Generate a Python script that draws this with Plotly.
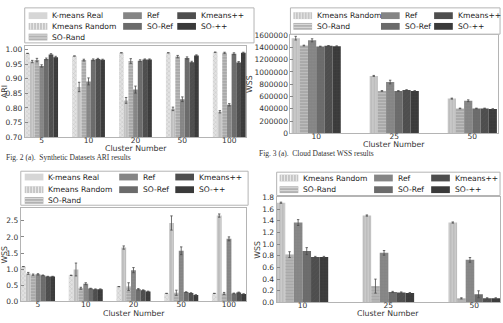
import plotly.graph_objects as go

W, H = 503, 323

# ---------------- data ----------------
# Fig. 2 (a) Synthetic datasets ARI
ari_categories = ["5", "10", "20", "50", "100"]
ari_kmeans_real = [0.987, 0.978, 0.989, 0.989, 0.991]
ari_kmeans_random = [0.959, 0.872, 0.826, 0.797, 0.787]
ari_so_rand = [0.964, 0.964, 0.961, 0.976, 0.989]
ari_ref = [0.944, 0.891, 0.863, 0.830, 0.811]
ari_so_ref = [0.968, 0.965, 0.962, 0.971, 0.986]
ari_kmeans_pp = [0.983, 0.968, 0.966, 0.957, 0.956]
ari_so_pp = [0.974, 0.965, 0.966, 0.980, 0.989]
ari_err_kmeans_real = [0, 0, 0, 0, 0]
ari_err_kmeans_random = [0.004, 0.016, 0.010, 0.006, 0.004]
ari_err_so_rand = [0.006, 0.003, 0.008, 0.004, 0.002]
ari_err_ref = [0.004, 0.012, 0.012, 0.008, 0.004]
ari_err_so_ref = [0.003, 0.003, 0.003, 0.004, 0.003]
ari_err_kmeans_pp = [0.003, 0.002, 0.002, 0.003, 0.003]
ari_err_so_pp = [0.003, 0.002, 0.002, 0.002, 0.002]

# Fig. 3 (a) Cloud dataset WSS
cloud_categories = ["10", "25", "50"]
cloud_kmeans_random = [1550000, 935000, 565000]
cloud_so_rand = [1430000, 690000, 405000]
cloud_ref = [1515000, 835000, 530000]
cloud_so_ref = [1415000, 690000, 405000]
cloud_kmeans_pp = [1425000, 705000, 405000]
cloud_so_pp = [1420000, 690000, 395000]
cloud_err_kmeans_random = [30000, 8000, 8000]
cloud_err_so_rand = [6000, 5000, 5000]
cloud_err_ref = [25000, 30000, 15000]
cloud_err_so_ref = [5000, 5000, 5000]
cloud_err_kmeans_pp = [5000, 5000, 5000]
cloud_err_so_pp = [5000, 5000, 5000]

# Fig. 2 (b) Synthetic datasets WSS
syn_categories = ["5", "10", "20", "50", "100"]
syn_kmeans_real = [1.08, 0.81, 0.46, 0.25, 0.25]
syn_kmeans_random = [0.87, 0.99, 1.67, 2.43, 2.66]
syn_so_rand = [0.83, 0.41, 0.46, 0.27, 0.25]
syn_ref = [0.84, 0.55, 0.97, 1.57, 1.94]
syn_so_ref = [0.81, 0.40, 0.38, 0.29, 0.25]
syn_kmeans_pp = [0.77, 0.38, 0.35, 0.26, 0.28]
syn_so_pp = [0.77, 0.38, 0.31, 0.20, 0.23]
syn_err_kmeans_real = [0, 0, 0, 0, 0]
syn_err_kmeans_random = [0.03, 0.20, 0.05, 0.22, 0.05]
syn_err_so_rand = [0.02, 0.03, 0.12, 0.08, 0.03]
syn_err_ref = [0.02, 0.03, 0.08, 0.12, 0.06]
syn_err_so_ref = [0.01, 0.01, 0.02, 0.01, 0.01]
syn_err_kmeans_pp = [0.01, 0.01, 0.01, 0.01, 0.01]
syn_err_so_pp = [0.01, 0.01, 0.01, 0.01, 0.01]

# Fig. 3 (b) Cloud dataset WSS (normalised)
cld_categories = ["10", "25", "50"]
cld_kmeans_random = [1.71, 1.49, 1.37]
cld_so_rand = [0.82, 0.28, 0.07]
cld_ref = [1.37, 0.85, 0.73]
cld_so_ref = [0.88, 0.18, 0.14]
cld_kmeans_pp = [0.78, 0.17, 0.07]
cld_so_pp = [0.78, 0.16, 0.07]
cld_err_kmeans_random = [0.01, 0.01, 0.01]
cld_err_so_rand = [0.05, 0.12, 0.01]
cld_err_ref = [0.05, 0.04, 0.04]
cld_err_so_ref = [0.06, 0.01, 0.06]
cld_err_kmeans_pp = [0.01, 0.01, 0.01]
cld_err_so_pp = [0.01, 0.01, 0.01]

# ---------------- styles ----------------
STYLE = {
    "K-means Real":  dict(bg="#e2e2e2", fg="#9a9a9a", shape="x", size=3, sol=0.25, swatch="#d6d6d6"),
    "Kmeans Random": dict(bg="#bdbdbd", fg="#e6e6e6", shape="|", size=3, sol=0.3, swatch="#c6c6c6"),
    "SO-Rand":       dict(bg="#a9a9a9", fg="#d8d8d8", shape="-", size=3, sol=0.3, swatch="#b2b2b2"),
    "Ref":           dict(bg="#858585", fg="#939393", shape=".", size=3, sol=0.2, swatch="#858585"),
    "SO-Ref":        dict(bg="#6b6b6b", fg="#7a7a7a", shape="+", size=3, sol=0.2, swatch="#6b6b6b"),
    "Kmeans++":      dict(bg="#4e4e4e", fg="#5c5c5c", shape="/", size=3, sol=0.2, swatch="#4e4e4e"),
    "SO-++":         dict(bg="#3a3a3a", fg="#4c4c4c", shape="+", size=3, sol=0.25, swatch="#3a3a3a"),
}


def px(x):
    return x / W


def py(y):
    return 1 - y / H


fig = go.Figure()


def add_panel(xa, ya, cats, names, values, errors, bw):
    n = len(names)
    for i, (name, vals, err) in enumerate(zip(names, values, errors)):
        st = STYLE[name]
        fig.add_trace(go.Bar(
            x=cats, y=vals, name=name, xaxis=xa, yaxis=ya,
            width=bw, offset=-n * bw / 2 + i * bw,
            marker=dict(color=st["bg"], line=dict(width=0),
                        pattern=dict(shape=st["shape"], fgcolor=st["fg"], bgcolor=st["bg"],
                                     size=st["size"], solidity=st["sol"])),
            error_y=dict(type="data", array=err, visible=True, color="#4a4a4a",
                         thickness=0.8, width=1.2),
            showlegend=False))


names7 = ["K-means Real", "Kmeans Random", "SO-Rand", "Ref", "SO-Ref", "Kmeans++", "SO-++"]
names6 = ["Kmeans Random", "SO-Rand", "Ref", "SO-Ref", "Kmeans++", "SO-++"]

add_panel("x", "y", ari_categories, names7,
          [ari_kmeans_real, ari_kmeans_random, ari_so_rand, ari_ref, ari_so_ref, ari_kmeans_pp, ari_so_pp],
          [ari_err_kmeans_real, ari_err_kmeans_random, ari_err_so_rand, ari_err_ref, ari_err_so_ref,
           ari_err_kmeans_pp, ari_err_so_pp], 0.1)
add_panel("x2", "y2", cloud_categories, names6,
          [cloud_kmeans_random, cloud_so_rand, cloud_ref, cloud_so_ref, cloud_kmeans_pp, cloud_so_pp],
          [cloud_err_kmeans_random, cloud_err_so_rand, cloud_err_ref, cloud_err_so_ref,
           cloud_err_kmeans_pp, cloud_err_so_pp], 0.105)
add_panel("x3", "y3", syn_categories, names7,
          [syn_kmeans_real, syn_kmeans_random, syn_so_rand, syn_ref, syn_so_ref, syn_kmeans_pp, syn_so_pp],
          [syn_err_kmeans_real, syn_err_kmeans_random, syn_err_so_rand, syn_err_ref, syn_err_so_ref,
           syn_err_kmeans_pp, syn_err_so_pp], 0.102)
add_panel("x4", "y4", cld_categories, names6,
          [cld_kmeans_random, cld_so_rand, cld_ref, cld_so_ref, cld_kmeans_pp, cld_so_pp],
          [cld_err_kmeans_random, cld_err_so_rand, cld_err_ref, cld_err_so_ref,
           cld_err_kmeans_pp, cld_err_so_pp], 0.1)

TICKFONT = dict(size=7.5, color="#333333", family="DejaVu Sans")
TITLEFONT = dict(size=7.8, color="#333333", family="DejaVu Sans")


def xaxis(x0, x1, rng, anchor):
    return dict(domain=[px(x0), px(x1)], range=rng, type="category", anchor=anchor,
                showline=True, mirror=True, linecolor="#b4b4b4", linewidth=1,
                ticks="inside", ticklen=3, tickcolor="#888888", showgrid=False, zeroline=False,
                tickfont=TICKFONT, ticklabelstandoff=-4)


def yaxis(y_top, y_bot, rng, dtick, fmt, anchor, title=""):
    return dict(domain=[py(y_bot), py(y_top)], range=rng, anchor=anchor, dtick=dtick, tickformat=fmt,
                showline=True, mirror=True, linecolor="#b4b4b4", linewidth=1,
                ticks="inside", ticklen=3, tickcolor="#888888", showgrid=False, zeroline=False,
                tickfont=TICKFONT, title=dict(text=title, font=TITLEFONT, standoff=0))


layout = dict(
    width=W, height=H, margin=dict(l=0, r=0, t=0, b=0),
    paper_bgcolor="white", plot_bgcolor="white", barmode="overlay", showlegend=False,
    font=dict(family="DejaVu Sans", color="#333333"),
    xaxis=xaxis(17, 242, [-0.36, 4.36], "y"),
    yaxis=yaxis(43, 137, [0.70, 1.013], 0.05, ".2f", "x", "ARI"),
    xaxis2=xaxis(287, 498, [-0.33, 2.33], "y2"),
    yaxis2=yaxis(32, 133, [0, 1600000], 200000, "d", "x2", "WSS"),
    xaxis3=xaxis(13, 242, [-0.36, 4.36], "y3"),
    yaxis3=yaxis(210, 306, [0, 2.89], 0.5, ".1f", "x3", "WSS"),
    xaxis4=xaxis(273, 500, [-0.3, 2.3], "y4"),
    yaxis4=yaxis(199, 307, [0, 1.8], 0.2, ".1f", "x4", "WSS"),
)
fig.update_layout(**layout)

shapes = []
annotations = []


def add_legend(box, columns, col_x, rows_y):
    x0, y0, x1, y1 = box
    shapes.append(dict(type="rect", xref="paper", yref="paper", x0=px(x0), x1=px(x1), y0=py(y1), y1=py(y0),
                       line=dict(color="#b4b4b4", width=1), fillcolor="white", layer="above"))
    for col, sx in zip(columns, col_x):
        for name, ry in zip(col, rows_y):
            st = STYLE[name]
            shapes.append(dict(type="rect", xref="paper", yref="paper", x0=px(sx), x1=px(sx + 19),
                               y0=py(ry + 3.5), y1=py(ry - 3.5), line=dict(width=0),
                               fillcolor=st["swatch"], layer="above"))
            if st["shape"] == "|":
                for k in range(2, 19, 3):
                    shapes.append(dict(type="line", xref="paper", yref="paper", x0=px(sx + k), x1=px(sx + k),
                                       y0=py(ry + 3.5), y1=py(ry - 3.5),
                                       line=dict(color="#eaeaea", width=1), layer="above"))
            elif st["shape"] == "-":
                for k in (-2, 1):
                    shapes.append(dict(type="line", xref="paper", yref="paper", x0=px(sx), x1=px(sx + 19),
                                       y0=py(ry + k), y1=py(ry + k),
                                       line=dict(color="#dcdcdc", width=1), layer="above"))
            annotations.append(dict(text=name, xref="paper", yref="paper", x=px(sx + 22), y=py(ry),
                                    xanchor="left", yanchor="middle", showarrow=False,
                                    font=dict(size=7.6, color="#222222", family="DejaVu Sans")))


add_legend((17, 4, 250, 40),
           [["K-means Real", "Kmeans Random", "SO-Rand"], ["Ref", "SO-Ref"], ["Kmeans++", "SO-++"]],
           [21, 117, 172], [12, 23, 34])
add_legend((287, 4, 500, 31),
           [["Kmeans Random", "SO-Rand"], ["Ref", "SO-Ref"], ["Kmeans++", "SO-++"]],
           [290, 379, 433], [12, 23])
add_legend((13, 172, 244, 207),
           [["K-means Real", "Kmeans Random", "SO-Rand"], ["Ref", "SO-Ref"], ["Kmeans++", "SO-++"]],
           [17, 113, 170], [178, 191, 202])
add_legend((273, 173, 500, 197),
           [["Kmeans Random", "SO-Rand"], ["Ref", "SO-Ref"], ["Kmeans++", "SO-++"]],
           [276, 372, 430], [179, 191])

# x-axis titles placed under each panel
for cx, cy in ((130, 148.5), (392, 144.5), (128, 318), (386, 318)):
    annotations.append(dict(text="Cluster Number", xref="paper", yref="paper", x=px(cx), y=py(cy),
                            xanchor="center", yanchor="middle", showarrow=False, font=TITLEFONT))

CAPFONT = dict(size=7.5, color="#333333", family="Liberation Serif")
annotations.append(dict(text="Fig. 2 (a).  Synthetic Datasets ARI results", xref="paper", yref="paper",
                        x=px(-4), y=py(158), xanchor="left", yanchor="middle", showarrow=False, font=CAPFONT))
annotations.append(dict(text="Fig. 3 (a).  Cloud Dataset WSS results", xref="paper", yref="paper",
                        x=px(253), y=py(154), xanchor="left", yanchor="middle", showarrow=False, font=CAPFONT))

fig.update_layout(shapes=shapes, annotations=annotations)
fig.write_html("out.html")
